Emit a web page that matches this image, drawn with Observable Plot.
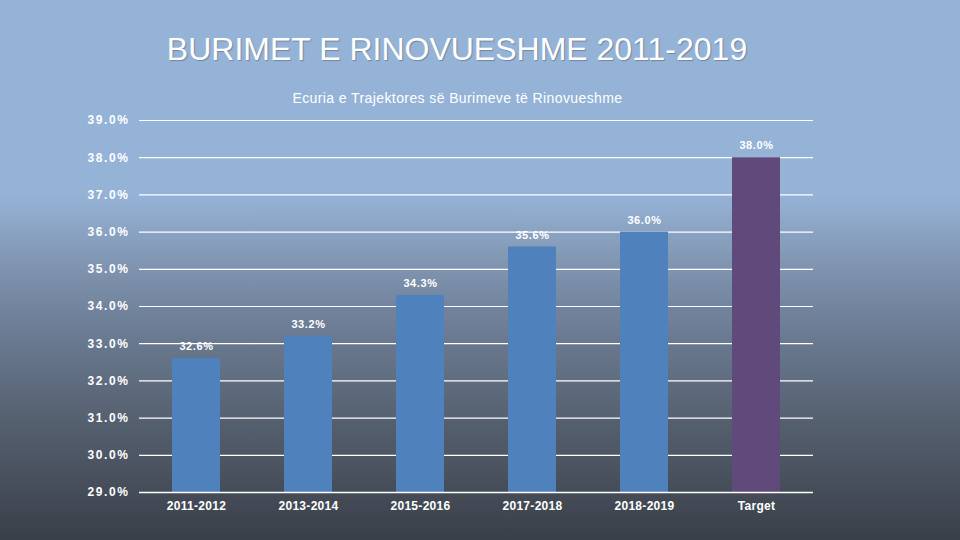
<!DOCTYPE html>
<html>
<head>
<meta charset="utf-8">
<script src="https://cdn.jsdelivr.net/npm/d3@7"></script>
<script src="https://cdn.jsdelivr.net/npm/@observablehq/plot@0.6"></script>
<style>
  html, body { margin: 0; padding: 0; }
  #wrap {
    position: relative; width: 960px; height: 540px; overflow: hidden;
    background: linear-gradient(to bottom, #95b3d7 0%, #95b3d7 36%, #8499b6 47%, #6d7e96 60%, #55606f 78%, #3a3f49 100%);
    font-family: "Liberation Sans", Arial, sans-serif;
  }
  #title {
    position: absolute; left: 0; width: 914px; top: 31px; text-align: center;
    color: #fff; font-size: 32px; text-shadow: 1px 1px 1px rgba(0,0,0,0.25);
  }
  #subtitle {
    position: absolute; left: 0; width: 915px; top: 90px; text-align: center;
    color: #fff; font-size: 14px; letter-spacing: 0.4px;
  }
  #chart { position: absolute; left: 0; top: 0; }
  #chart svg [aria-label="y-axis tick label"] text { letter-spacing: 1.6px; }
  #chart svg [aria-label="text"] text { letter-spacing: 0.6px; }
  #chart svg [aria-label="x-axis tick label"] text { letter-spacing: 0.3px; }
</style>
</head>
<body>
<div id="wrap">
  <div id="title">BURIMET E RINOVUESHME 2011-2019</div>
  <div id="subtitle">Ecuria e Trajektores së Burimeve të Rinovueshme</div>
  <div id="chart"></div>
</div>
<script>
const periods = ["2011-2012", "2013-2014", "2015-2016", "2017-2018", "2018-2019", "Target"];
const values = [32.6, 33.2, 34.3, 35.6, 36.0, 38.0];
const yTicks = [29, 30, 31, 32, 33, 34, 35, 36, 37, 38, 39];
const barColors = ["#4f81bd", "#4f81bd", "#4f81bd", "#4f81bd", "#4f81bd", "#604a7b"];

const data = periods.map((p, i) => ({period: p, value: values[i], color: barColors[i]}));

const chart = Plot.plot({
  width: 960,
  height: 540,
  marginTop: 120,
  marginBottom: 48,
  marginLeft: 139,
  marginRight: 147,
  style: {background: "transparent", color: "#fff", fontFamily: "'Liberation Sans', Arial, sans-serif"},
  x: {domain: periods, paddingInner: 0.57, paddingOuter: 0.285, label: null},
  y: {domain: [29, 39], label: null},
  marks: [
    Plot.gridY(yTicks, {stroke: "#fff", strokeOpacity: 1, strokeWidth: 1.2}),
    Plot.barY(data, {x: "period", y1: 29, y2: "value", fill: "color"}),
    Plot.ruleY([29], {stroke: "#fff", strokeWidth: 1.5}),
    Plot.text(data, {x: "period", y: "value", text: d => d.value.toFixed(1) + "%", dy: -12, fill: "#fff", fontSize: 11, fontWeight: "bold"}),
    Plot.axisY(yTicks, {tickSize: 0, tickPadding: 10, tickFormat: d => d.toFixed(1) + "%", fontSize: 12, fontWeight: "bold", fill: "#fff", label: null}),
    Plot.axisX({tickSize: 0, tickPadding: 9, fontSize: 12, fontWeight: "bold", fill: "#fff", label: null})
  ]
});
document.getElementById("chart").appendChild(chart);
</script>
</body>
</html>
